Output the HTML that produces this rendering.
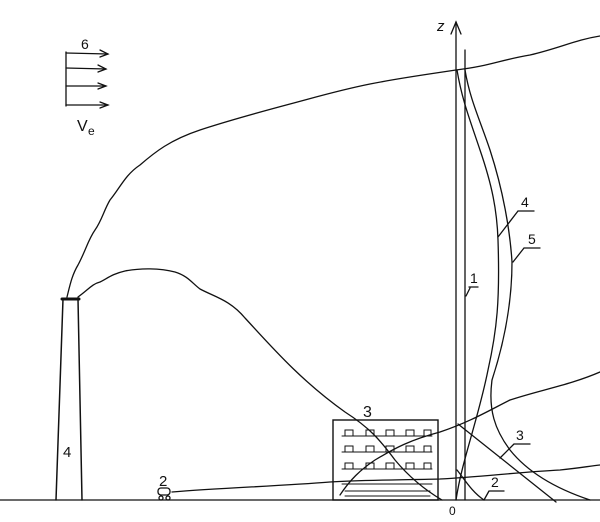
<!DOCTYPE html>
<html><head><meta charset="utf-8"><style>
html,body{margin:0;padding:0;background:#fff;}
svg{display:block;}
text{font-family:"Liberation Sans",sans-serif;fill:#111;}
</style></head><body>
<svg width="600" height="522" viewBox="0 0 600 522" xmlns="http://www.w3.org/2000/svg" fill="none" stroke="#111" stroke-width="1.3" stroke-linecap="round">
<!-- ground -->
<line x1="0" y1="500" x2="600" y2="500" stroke-width="1.3"/>
<!-- legend -->
<line x1="66" y1="52" x2="66" y2="106"/>
<line x1="66" y1="53" x2="108" y2="54"/><path d="M100 50 L108 54 L100 57"/>
<line x1="66" y1="68" x2="106" y2="69"/><path d="M98 65 L106 69 L98 72"/>
<line x1="66" y1="86" x2="106" y2="86"/><path d="M98 83 L106 86 L98 89"/>
<line x1="66" y1="105" x2="108" y2="105"/><path d="M100 102 L108 105 L100 108"/>
<text x="81" y="49" font-size="14" stroke="none">6</text>
<text x="77" y="131" font-size="16" stroke="none">V</text><text x="88" y="135" font-size="12" stroke="none">e</text>
<!-- chimney -->
<path d="M56 500 L63 299 L78 299 L82 500" stroke-width="1.5"/>
<line x1="62" y1="299" x2="79" y2="299" stroke-width="3"/>
<text x="63" y="457" font-size="15" stroke="none">4</text>
<!-- upper plume -->
<path d="M67 297 C70 285 72 275 78 265 C86 250 88 240 95 230 C102 220 104 210 110 200 C120 188 125 175 140 165 C155 152 170 140 200 130 C230 120 260 112 290 104 C320 96 340 90 370 84 C400 78 430 74 456 70 C490 66 500 60 530 55 C560 48 575 40 600 36"/>
<!-- lower plume -->
<path d="M78 297 C88 290 92 284 100 282 C108 278 112 274 125 271 C140 268 160 268 175 272 C188 276 192 283 200 289 C215 297 230 300 245 318 C270 345 300 380 345 412 C370 428 380 440 395 460 C410 478 425 490 442 500"/>
<!-- building -->
<rect x="333" y="420" width="105" height="80" stroke-width="1.4"/>
<text x="363" y="417" font-size="16" stroke="none">3</text>
<g stroke-width="1">
<path d="M342 436 h90 M342 452 h90 M342 469 h90 M342 484 h90"/>
<path d="M345 436 v-6 h8 v6 M366 436 v-6 h8 v6 M386 436 v-6 h8 v6 M406 436 v-6 h8 v6 M424 436 v-6 h7 v6"/>
<path d="M345 452 v-6 h8 v6 M366 452 v-6 h8 v6 M386 452 v-6 h8 v6 M406 452 v-6 h8 v6 M424 452 v-6 h7 v6"/>
<path d="M345 469 v-6 h8 v6 M366 469 v-6 h8 v6 M386 469 v-6 h8 v6 M406 469 v-6 h8 v6 M424 469 v-6 h7 v6"/>
<path d="M345 491 h85 M345 496 h85"/>
</g>
<!-- car -->
<rect x="158" y="488" width="12" height="7" rx="3"/>
<circle cx="161" cy="498" r="2"/><circle cx="168" cy="498" r="2"/>
<text x="159" y="486" font-size="15" stroke="none">2</text>
<!-- horizontal wavy line -->
<path d="M172 492 C220 488 280 486 330 482 C360 480 400 480 440 479 C480 477 520 472 560 470 C580 468 590 466 600 465"/>
<!-- rising line -->
<path d="M340 495 C350 480 360 470 375 460 C395 448 410 440 440 432 C470 422 490 410 510 400 C540 390 570 385 600 372"/>
<!-- axis -->
<line x1="456" y1="500" x2="456" y2="22"/>
<path d="M451 34 L456 22 L461 34"/>
<text x="437" y="31" font-size="15" font-style="italic" stroke="none">z</text>
<line x1="465" y1="50" x2="465" y2="500"/>
<text x="449" y="515" font-size="12" stroke="none">0</text>
<!-- curve 4 -->
<path d="M457 70 C462 100 470 120 480 150 C492 185 497 210 498 240 C500 300 497 330 488 370 C478 420 462 460 456 500"/>
<!-- curve 5 -->
<path d="M465 70 C470 100 480 120 490 150 C503 190 510 230 512 262 C512 300 505 340 492 380 C488 410 495 430 510 450 C530 475 560 490 590 500"/>
<!-- line 3 -->
<path d="M458 424 L556 502"/>
<!-- line 2 -->
<path d="M457 470 C465 480 472 492 484 500"/>
<!-- labels & leaders -->
<text x="470" y="283" font-size="14" stroke="none">1</text>
<path d="M469 287 h9 M466 296 L470 288"/>
<text x="521" y="207" font-size="14" stroke="none">4</text>
<path d="M518 211 h16 M498 237 L518 211"/>
<text x="528" y="244" font-size="14" stroke="none">5</text>
<path d="M524 248 h16 M513 262 L524 248"/>
<text x="516" y="440" font-size="14" stroke="none">3</text>
<path d="M514 444 h16 M500 458 L514 444"/>
<text x="491" y="487" font-size="14" stroke="none">2</text>
<path d="M489 491 h15 M484 500 L489 491"/>
</svg>
</body></html>
